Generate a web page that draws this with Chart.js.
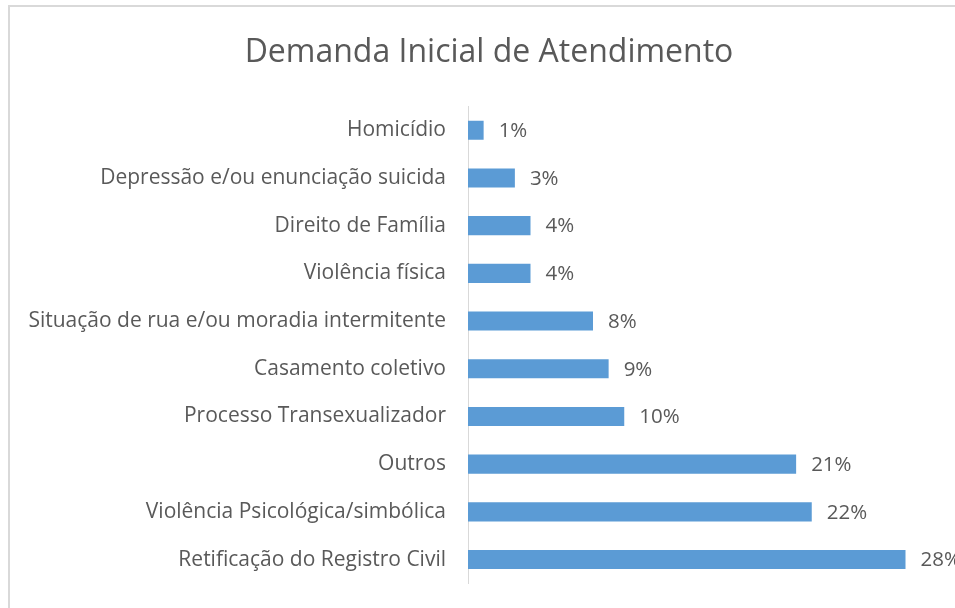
<!DOCTYPE html>
<html>
<head>
<meta charset="utf-8">
<script src="https://cdn.jsdelivr.net/npm/chart.js@4"></script>
<style>
  body { margin: 0; overflow: hidden; background: #fff; }
  #frame {
    position: absolute; left: 8px; top: 5px;
    width: 980px; height: 640px;
    border: 2px solid #d9d9d9;
  }
  canvas { display: block; }
</style>
</head>
<body>
<div id="frame"><canvas id="myChart" width="958" height="611"></canvas></div>
<script>
// categories (top to bottom) and percentages
var categories = [
  "Homicídio",
  "Depressão e/ou enunciação suicida",
  "Direito de Família",
  "Violência física",
  "Situação de rua e/ou moradia intermitente",
  "Casamento coletivo",
  "Processo Transexualizador",
  "Outros",
  "Violência Psicológica/simbólica",
  "Retificação do Registro Civil"
];
var percents = [1, 3, 4, 4, 8, 9, 10, 21, 22, 28];

var textColor = "#595959";

// draws the "n%" labels at the end of each bar
var valueLabels = {
  id: "valueLabels",
  afterDatasetsDraw: function (chart) {
    var ctx = chart.ctx;
    var meta = chart.getDatasetMeta(0);
    ctx.save();
    ctx.font = "20.5px 'Open Sans'";
    ctx.fillStyle = textColor;
    ctx.textBaseline = "middle";
    ctx.textAlign = "left";
    meta.data.forEach(function (bar, i) {
      ctx.fillText(percents[i] + "%", bar.x + 15, bar.y + 1);
    });
    ctx.restore();
  }
};

var ctx = document.getElementById("myChart").getContext("2d");
var myChart = new Chart(ctx, {
  type: "bar",
  data: {
    labels: categories,
    datasets: [
      {
        data: percents,
        backgroundColor: "#5b9bd5",
        barPercentage: 0.4,
        categoryPercentage: 1.0
      }
    ]
  },
  plugins: [valueLabels],
  options: {
    indexAxis: "y",
    responsive: false,
    animation: false,
    layout: { padding: { top: 0, right: 0, bottom: 15, left: 0 } },
    scales: {
      x: {
        display: false,
        min: 0,
        max: 32
      },
      y: {
        grid: { display: false, drawTicks: false },
        border: { display: true, color: "#d9d9d9", width: 1 },
        ticks: {
          color: textColor,
          font: { family: "Open Sans", size: 21 },
          padding: 22
        },
        afterFit: function (scale) {
          scale.width = 458;
        }
      }
    },
    plugins: {
      legend: { display: false },
      tooltip: { enabled: false },
      title: {
        display: true,
        text: "Demanda Inicial de Atendimento",
        color: textColor,
        font: { family: "Open Sans", size: 32, weight: "normal" },
        padding: { top: 27, bottom: 34 }
      }
    }
  }
});
</script>
</body>
</html>
